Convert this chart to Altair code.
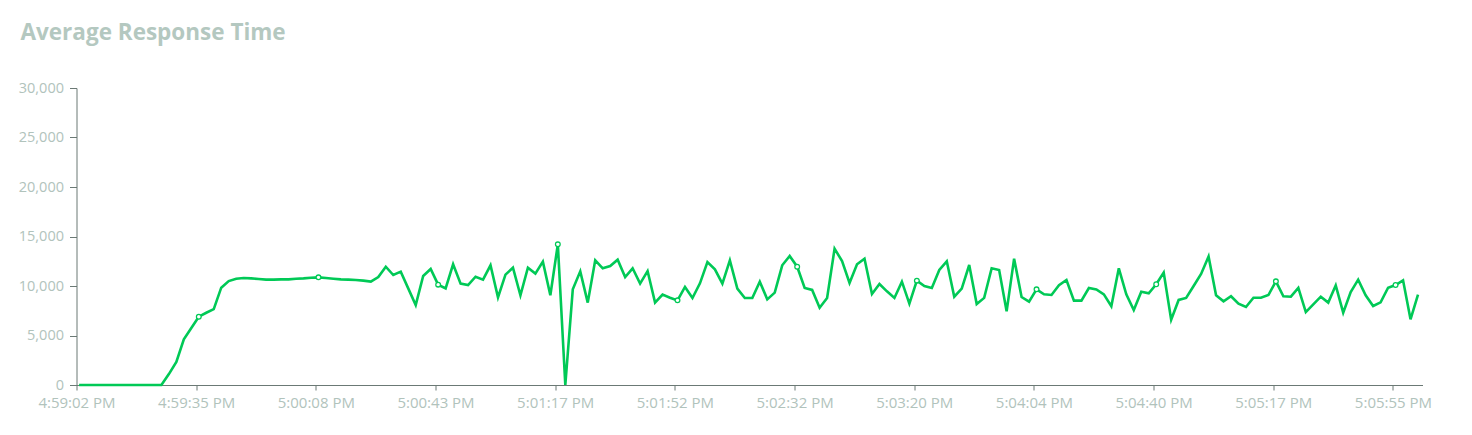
import altair as alt
import pandas as pd

tick_labels = ["4:59:02 PM", "4:59:35 PM", "5:00:08 PM", "5:00:43 PM", "5:01:17 PM",
               "5:01:52 PM", "5:02:32 PM", "5:03:20 PM", "5:04:04 PM", "5:04:40 PM",
               "5:05:17 PM", "5:05:55 PM"]

y_ticks = [0, 5000, 10000, 15000, 20000, 25000, 30000]

response_ms = [
    0, 0, 0, 0, 0, 0, 0, 0, 0, 0, 0, 0,
    1100, 2330, 4610, 5760, 6900, 7300, 7660, 9830, 10500, 10740,
    10810, 10770, 10710, 10640, 10640, 10670, 10670, 10740, 10770, 10840,
    10875, 10810, 10740, 10670, 10640, 10610, 10540, 10440, 10910, 11950,
    11110, 11450, 9760, 8080, 11010, 11720, 10135, 9760, 12190, 10240,
    10100, 10940, 10640, 12090, 8855, 11145, 11850, 9060, 11850, 11250,
    12460, 9060, 14210, 0, 9660, 11480, 8320, 12590, 11790, 12020,
    12660, 10910, 11790, 10240, 11510, 8320, 9125, 8820, 8550, 9900,
    8790, 10270, 12420, 11680, 10240, 12590, 9730, 8790, 8790, 10440,
    8650, 9330, 12090, 13030, 11950, 9800, 9600, 7810, 8790, 13770,
    12520, 10300, 12190, 12760, 9190, 10200, 9460, 8790, 10440, 8215,
    10540, 10000, 9800, 11620, 12490, 8920, 9730, 12120, 8180, 8800,
    11790, 11620, 7440, 12760, 8890, 8420, 9660, 9160, 9090, 10070,
    10610, 8520, 8520, 9800, 9660, 9160, 7950, 11790, 9160, 7580,
    9430, 9260, 10170, 11350, 6600, 8590, 8790, 10000, 11210, 12980,
    9060, 8450, 8960, 8215, 7880, 8820, 8820, 9090, 10470, 8960,
    8920, 9800, 7370, 8150, 8920, 8320, 10070, 7310, 9390, 10640,
    9060, 7980, 8350, 9830, 10100, 10570, 6630, 9120,
]

label_every = 16
df = pd.DataFrame({"idx": list(range(len(response_ms))), "value": response_ms})
df["marker"] = (df["idx"] % label_every == 0) & (df["idx"] > 0)

shift = 0.35
tick_vals = [label_every * k - shift for k in range(len(tick_labels))]
label_expr = "[" + ",".join(f"'{t}'" for t in tick_labels) + f"][round((datum.value + {shift}) / {label_every})]"

green = "#00c956"
label_color = "#b1c3bc"
axis_color = "#6b7975"
font = "Open Sans"

x_enc = alt.X("idx:Q",
              scale=alt.Scale(domain=[-shift, 179.6], nice=False, zero=False),
              axis=alt.Axis(values=tick_vals, labelExpr=label_expr, grid=False,
                            title=None, tickSize=5, labelPadding=5, labelFlush=False,
                            labelOverlap=False, domainColor=axis_color, tickColor=axis_color,
                            labelColor=label_color, labelFont=font, labelFontSize=15))
y_enc = alt.Y("value:Q",
              scale=alt.Scale(domain=[0, 30000], nice=False),
              axis=alt.Axis(values=y_ticks, format=",.0f", grid=False, title=None,
                            tickSize=7, labelPadding=6,
                            domainColor=axis_color, tickColor=axis_color,
                            labelColor=label_color, labelFont=font, labelFontSize=14.5))

line = alt.Chart(df).mark_line(color=green, strokeWidth=2.6).encode(x=x_enc, y=y_enc)
pts = alt.Chart(df).transform_filter("datum.marker").mark_point(
    shape="circle", filled=True, fill="white", stroke=green, strokeWidth=1.3,
    size=22, opacity=1).encode(x="idx:Q", y="value:Q")

chart = alt.layer(line, pts).properties(
    width=1346, height=297,
    autosize=alt.AutoSizeParams(type="none"),
    padding={"left": 68.5, "top": 80, "right": 40, "bottom": 40},
    title=alt.TitleParams("Average Response Time", anchor="start", frame="group",
                          dx=-56, dy=-32, font=font, fontSize=22.5, fontWeight="bold",
                          color="#b4c8c0"),
).configure_view(stroke=None)

chart.save("out.html", embed_options={"renderer": "svg", "actions": False})
